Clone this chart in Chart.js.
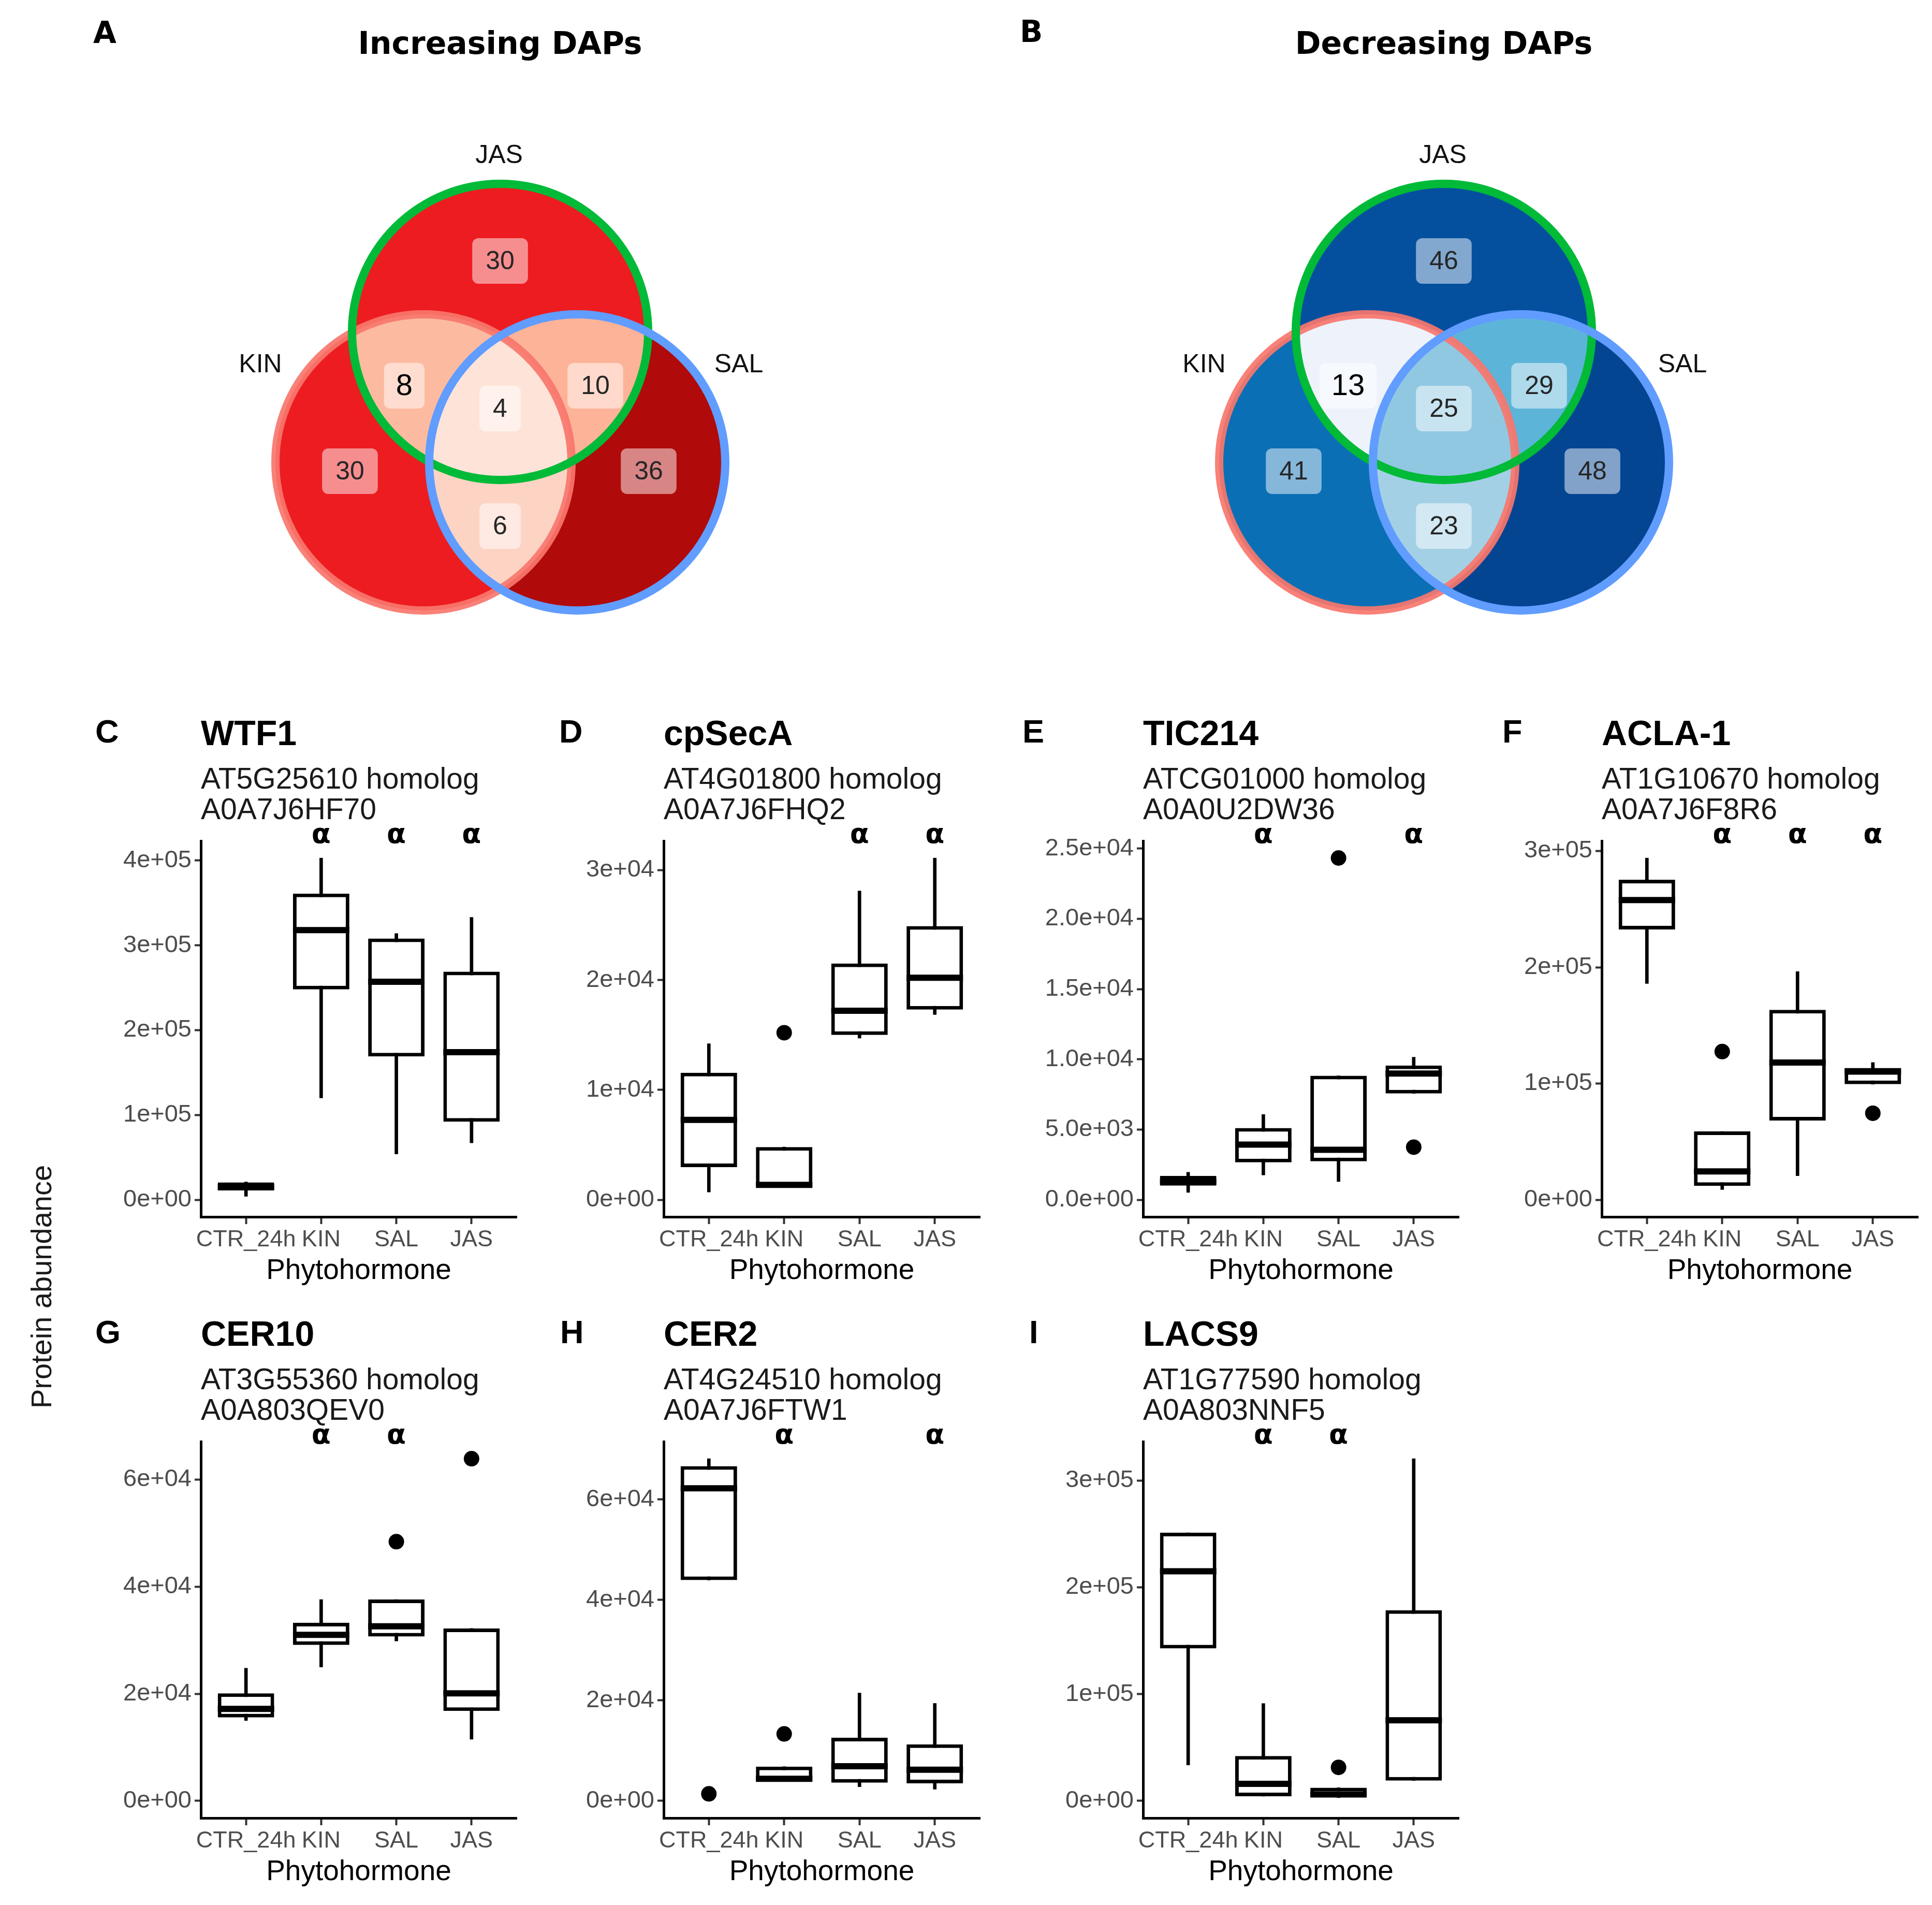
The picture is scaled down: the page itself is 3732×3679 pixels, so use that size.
<!DOCTYPE html>
<html>
<head>
<meta charset="utf-8">
<script src="https://cdn.jsdelivr.net/npm/chart.js@4.4.1/dist/chart.umd.min.js"></script>
<style>
html,body{margin:0;padding:0;background:#fff;}
#page{position:relative;width:3732px;height:3679px;background:#fff;overflow:hidden;}
#page canvas{position:absolute;}
.letter{position:absolute;font-family:"Liberation Sans",Arial,sans-serif;font-weight:bold;color:#000;line-height:1;white-space:nowrap;}
.letterAB{position:absolute;font-family:"DejaVu Sans",sans-serif;font-weight:bold;color:#000;line-height:1;white-space:nowrap;font-size:58px;}
#ylab{position:absolute;left:-320px;top:2450px;width:800px;height:70px;line-height:70px;text-align:center;
  transform:rotate(-90deg);font-family:"Liberation Sans",Arial,sans-serif;font-size:56px;color:#1a1a1a;white-space:nowrap;}
</style>
</head>
<body>
<div id="page">
  <div class="letterAB" style="left:180px;top:34px;">A</div>
  <div class="letterAB" style="left:1970px;top:32px;">B</div>
  <div class="letter" style="left:184px;top:1381px;font-size:63px;">C</div>
  <div class="letter" style="left:1080px;top:1381px;font-size:63px;">D</div>
  <div class="letter" style="left:1975px;top:1381px;font-size:63px;">E</div>
  <div class="letter" style="left:2902px;top:1381px;font-size:63px;">F</div>
  <div class="letter" style="left:184px;top:2541px;font-size:63px;">G</div>
  <div class="letter" style="left:1082px;top:2541px;font-size:63px;">H</div>
  <div class="letter" style="left:1988px;top:2541px;font-size:63px;">I</div>
  <div id="ylab">Protein abundance</div>
</div>
<script>
// ===================== DATA =====================
const vennSets = ['KIN', 'JAS', 'SAL'];
const vennRegions = ['KIN', 'JAS', 'SAL', 'KIN∩JAS', 'JAS∩SAL', 'KIN∩SAL', 'KIN∩JAS∩SAL'];
const increasingCounts = [30, 30, 36, 8, 10, 6, 4];
const decreasingCounts = [41, 46, 48, 13, 29, 23, 25];

const categories = ['CTR_24h', 'KIN', 'SAL', 'JAS'];

// C - WTF1
const wtf1Low    = [4000, 120000, 54000, 67000];
const wtf1Q1     = [11000, 248000, 169000, 92000];
const wtf1Median = [15000, 318000, 257000, 174000];
const wtf1Q3     = [20500, 361000, 308000, 269000];
const wtf1High   = [21000, 403000, 314000, 333000];
const wtf1OutCat = [];
const wtf1OutVal = [];
const wtf1Sig    = ['', 'α', 'α', 'α'];
const wtf1Ticks  = [0, 100000, 200000, 300000, 400000];

// D - cpSecA
const cpsecaLow    = [700, 1250, 14700, 16850];
const cpsecaQ1     = [2970, 1250, 15000, 17300];
const cpsecaMedian = [7270, 1350, 17200, 20200];
const cpsecaQ3     = [11560, 4800, 21500, 24900];
const cpsecaHigh   = [14200, 4800, 28100, 31100];
const cpsecaOutCat = ['KIN'];
const cpsecaOutVal = [15200];
const cpsecaSig    = ['', '', 'α', 'α'];
const cpsecaTicks  = [0, 10000, 20000, 30000];

// E - TIC214
const tic214Low    = [520, 1760, 1290, 7570];
const tic214Q1     = [1000, 2660, 2740, 7570];
const tic214Median = [1300, 3930, 3560, 8990];
const tic214Q3     = [1700, 5110, 8830, 9560];
const tic214High   = [1960, 6070, 8830, 10150];
const tic214OutCat = ['SAL', 'JAS'];
const tic214OutVal = [24330, 3745];
const tic214Sig    = ['', 'α', '', 'α'];
const tic214Ticks  = [0, 5000, 10000, 15000, 20000, 25000];

// F - ACLA-1
const acla1Low    = [186000, 8750, 20600, 99400];
const acla1Q1     = [232500, 11900, 68100, 99400];
const acla1Median = [257800, 24400, 118100, 110300];
const acla1Q3     = [275300, 58750, 163400, 113400];
const acla1High   = [294000, 58750, 196250, 118100];
const acla1OutCat = ['KIN', 'JAS'];
const acla1OutVal = [127500, 74400];
const acla1Sig    = ['', 'α', 'α', 'α'];
const acla1Ticks  = [0, 100000, 200000, 300000];

// G - CER10
const cer10Low    = [15000, 25000, 29850, 11500];
const cer10Q1     = [15580, 29130, 30700, 16800];
const cer10Median = [17170, 31000, 32600, 20070];
const cer10Q3     = [20070, 33260, 37600, 32200];
const cer10High   = [24780, 37600, 37600, 32200];
const cer10OutCat = ['SAL', 'JAS'];
const cer10OutVal = [48400, 63900];
const cer10Sig    = ['', 'α', 'α', ''];
const cer10Ticks  = [0, 20000, 40000, 60000];

// H - CER2
const cer2Low    = [43950, 3880, 2800, 2330];
const cer2Q1     = [43950, 3880, 3640, 3490];
const cer2Median = [62200, 4400, 6900, 6200];
const cer2Q3     = [66600, 6820, 12560, 11240];
const cer2High   = [68100, 6820, 21470, 19400];
const cer2OutCat = ['CTR_24h', 'KIN'];
const cer2OutVal = [1400, 13330];
const cer2Sig    = ['', 'α', '', 'α'];
const cer2Ticks  = [0, 20000, 40000, 60000];

// I - LACS9
const lacs9Low    = [33600, 4400, 3000, 19000];
const lacs9Q1     = [142700, 4400, 4400, 19000];
const lacs9Median = [215000, 16000, 6000, 75500];
const lacs9Q3     = [251100, 42000, 12400, 178500];
const lacs9High   = [251100, 91200, 12400, 320400];
const lacs9OutCat = ['SAL'];
const lacs9OutVal = [31400];
const lacs9Sig    = ['', 'α', 'α', ''];
const lacs9Ticks  = [0, 100000, 200000, 300000];

// ===================== STYLE / LAYOUT =====================
Chart.defaults.font.family = '"Liberation Sans", Arial, sans-serif';
const SANS = '"Liberation Sans", Arial, sans-serif';

const vennLayout = {
  radius: 286,
  centers: [[-148, -84], [0, 168], [149, -84]],
  regionPos: [[-290, -101], [0, 305], [287, -101], [-185, 64], [184, 64], [0, -207], [0, 20]],
  setPos: [[-463, 90], [-2, 494], [461, 90]],
  titleY: 705
};
const ringColors = ['rgba(248,118,109,0.92)', '#00BA38', '#619CFF'];
const incFills = ['#ED1C20', '#ED1C20', '#B10A0A', '#FCBBA1', '#FCB398', '#FDD4C4', '#FEE4D8'];
const decFills = ['#0B6FB5', '#04509F', '#044592', '#EDF2FB', '#5DB4D9', '#A4D0E6', '#90C8E1'];

const vennPlugin = {
  id: 'venn',
  afterDraw(chart, args, o) {
    const {ctx, scales: {x, y}} = chart;
    const px = v => x.getPixelForValue(v), py = v => y.getPixelForValue(v);
    const r = Math.abs(px(vennLayout.radius) - px(0));
    const c = vennLayout.centers.map(([cx, cy]) => [px(cx), py(cy)]);
    const path = i => { ctx.beginPath(); ctx.arc(c[i][0], c[i][1], r, 0, Math.PI * 2); };
    ctx.save();
    for (let i = 0; i < 3; i++) { path(i); ctx.fillStyle = o.fills[i]; ctx.fill(); }
    const pairs = [[0, 1], [1, 2], [0, 2]];
    pairs.forEach(([a, b], k) => {
      ctx.save(); path(a); ctx.clip(); path(b); ctx.fillStyle = o.fills[3 + k]; ctx.fill(); ctx.restore();
    });
    ctx.save(); path(0); ctx.clip(); path(1); ctx.clip(); path(2); ctx.fillStyle = o.fills[6]; ctx.fill(); ctx.restore();
    [0, 1, 2].forEach(i => { path(i); ctx.lineWidth = 16; ctx.strokeStyle = ringColors[i]; ctx.stroke(); });
    // region counts
    ctx.textAlign = 'center'; ctx.textBaseline = 'middle';
    o.counts.forEach((n, i) => {
      const big = o.emphasis.includes(i);
      ctx.font = (big ? '58px ' : '50px ') + SANS;
      const t = String(n);
      const tw = ctx.measureText(t).width;
      const w = tw + (big ? 46 : 52), h = 88;
      const cx = px(vennLayout.regionPos[i][0]), cy = py(vennLayout.regionPos[i][1]);
      ctx.beginPath(); ctx.roundRect(cx - w / 2, cy - h / 2, w, h, 12);
      ctx.fillStyle = 'rgba(255,255,255,0.5)'; ctx.fill();
      ctx.fillStyle = big ? '#000' : '#262626';
      ctx.fillText(t, cx, cy + 2);
    });
    // set labels
    ctx.textBaseline = 'alphabetic'; ctx.fillStyle = '#111'; ctx.font = '50px ' + SANS;
    vennSets.forEach((s, i) => ctx.fillText(s, px(vennLayout.setPos[i][0]), py(vennLayout.setPos[i][1])));
    // title
    ctx.font = 'bold 60px "DejaVu Sans"'; ctx.fillStyle = '#000';
    ctx.fillText(o.title, px(0), py(vennLayout.titleY));
    ctx.restore();
  }
};

function addCanvas(left, top, w, h) {
  const cv = document.createElement('canvas');
  cv.width = w; cv.height = h;
  cv.style.left = left + 'px'; cv.style.top = top + 'px';
  cv.style.width = w + 'px'; cv.style.height = h + 'px';
  document.getElementById('page').appendChild(cv);
  return cv;
}

function makeVenn(left, xmin, counts, fills, title, emphasis) {
  const W = 1866, H = 1260;
  const cv = addCanvas(left, 0, W, H);
  new Chart(cv, {
    type: 'scatter',
    data: {datasets: []},
    options: {
      responsive: false, animation: false, devicePixelRatio: 1, events: [],
      layout: {padding: 0},
      scales: {
        x: {display: false, min: xmin, max: xmin + W},
        y: {display: false, min: -451, max: 809}
      },
      plugins: {legend: {display: false}, tooltip: {enabled: false},
        venn: {counts, fills, title, emphasis}}
    },
    plugins: [vennPlugin]
  });
}
makeVenn(0, -966, increasingCounts, incFills, 'Increasing DAPs', [3]);
makeVenn(1866, -923, decreasingCounts, decFills, 'Decreasing DAPs', [3]);

// ---------- box plots ----------
const fmtSci = (v, d) => Number(v).toExponential(d).replace(/e([+-])(\d+)$/, (m, s, e) => 'e' + s + e.padStart(2, '0'));

const panelHeader = {
  id: 'panelHeader',
  afterDraw(chart, args, o) {
    const {ctx, chartArea: a, scales: {x}} = chart;
    ctx.save();
    ctx.textAlign = 'left'; ctx.textBaseline = 'alphabetic';
    ctx.fillStyle = '#000'; ctx.font = 'bold 68px ' + SANS;
    ctx.fillText(o.name, a.left, a.top - 185);
    ctx.fillStyle = '#1a1a1a'; ctx.font = '57px ' + SANS;
    ctx.fillText(o.sub[0], a.left, a.top - 101);
    ctx.fillText(o.sub[1], a.left, a.top - 42);
    ctx.fillStyle = '#000'; ctx.font = 'bold 54px "DejaVu Sans"'; ctx.textAlign = 'center';
    o.sig.forEach((s, i) => { if (s) ctx.fillText(s, x.getPixelForValue(i + 1), a.top + 4); });
    ctx.restore();
  }
};
const boxMedian = {
  id: 'boxMedian',
  afterDatasetsDraw(chart, args, o) {
    const {ctx, scales: {y}} = chart;
    const meta = chart.getDatasetMeta(0);
    ctx.save();
    ctx.strokeStyle = '#000'; ctx.lineWidth = 12; ctx.lineCap = 'butt';
    meta.data.forEach((bar, i) => {
      const yy = y.getPixelForValue(o.median[i]);
      ctx.beginPath(); ctx.moveTo(bar.x - bar.width / 2, yy); ctx.lineTo(bar.x + bar.width / 2, yy); ctx.stroke();
    });
    ctx.restore();
  }
};

const panels = [
  {name: 'WTF1', sub: ['AT5G25610 homolog', 'A0A7J6HF70'], low: wtf1Low, q1: wtf1Q1, med: wtf1Median, q3: wtf1Q3, high: wtf1High, outCat: wtf1OutCat, outVal: wtf1OutVal, sig: wtf1Sig, ticks: wtf1Ticks, digits: 0, area: [388, 1624, 998, 2350]},
  {name: 'cpSecA', sub: ['AT4G01800 homolog', 'A0A7J6FHQ2'], low: cpsecaLow, q1: cpsecaQ1, med: cpsecaMedian, q3: cpsecaQ3, high: cpsecaHigh, outCat: cpsecaOutCat, outVal: cpsecaOutVal, sig: cpsecaSig, ticks: cpsecaTicks, digits: 0, area: [1282, 1624, 1893, 2350]},
  {name: 'TIC214', sub: ['ATCG01000 homolog', 'A0A0U2DW36'], low: tic214Low, q1: tic214Q1, med: tic214Median, q3: tic214Q3, high: tic214High, outCat: tic214OutCat, outVal: tic214OutVal, sig: tic214Sig, ticks: tic214Ticks, digits: 1, area: [2208, 1624, 2818, 2350]},
  {name: 'ACLA-1', sub: ['AT1G10670 homolog', 'A0A7J6F8R6'], low: acla1Low, q1: acla1Q1, med: acla1Median, q3: acla1Q3, high: acla1High, outCat: acla1OutCat, outVal: acla1OutVal, sig: acla1Sig, ticks: acla1Ticks, digits: 0, area: [3094, 1624, 3705, 2350]},
  {name: 'CER10', sub: ['AT3G55360 homolog', 'A0A803QEV0'], low: cer10Low, q1: cer10Q1, med: cer10Median, q3: cer10Q3, high: cer10High, outCat: cer10OutCat, outVal: cer10OutVal, sig: cer10Sig, ticks: cer10Ticks, digits: 0, area: [388, 2784, 998, 3511]},
  {name: 'CER2', sub: ['AT4G24510 homolog', 'A0A7J6FTW1'], low: cer2Low, q1: cer2Q1, med: cer2Median, q3: cer2Q3, high: cer2High, outCat: cer2OutCat, outVal: cer2OutVal, sig: cer2Sig, ticks: cer2Ticks, digits: 0, area: [1282, 2784, 1893, 3511]},
  {name: 'LACS9', sub: ['AT1G77590 homolog', 'A0A803NNF5'], low: lacs9Low, q1: lacs9Q1, med: lacs9Median, q3: lacs9Q3, high: lacs9High, outCat: lacs9OutCat, outVal: lacs9OutVal, sig: lacs9Sig, ticks: lacs9Ticks, digits: 0, area: [2208, 2784, 2818, 3511]}
];

const Y_W = 250, X_H = 170, TOP_PAD = 300, RIGHT_PAD = 25;
panels.forEach(p => {
  const [L, T, R, B] = p.area;
  const W = (R - L) + Y_W + RIGHT_PAD, H = (B - T) + TOP_PAD + X_H;
  const cv = addCanvas(L - Y_W, T - TOP_PAD, W, H);
  const all = [...p.low, ...p.high, ...p.outVal];
  const lo = Math.min(0, ...all), hi = Math.max(...all), pad = 0.05 * (hi - lo);
  new Chart(cv, {
    type: 'bar',
    data: {
      datasets: [
        {type: 'bar', label: 'box', data: categories.map((c, i) => ({x: i + 1, y: [p.q1[i], p.q3[i]]})),
          backgroundColor: '#fff', borderColor: '#000', borderWidth: 7, borderSkipped: false,
          grouped: false, barPercentage: 0.75, categoryPercentage: 1},
        {type: 'bar', label: 'whisker', data: categories.map((c, i) => ({x: i + 1, y: [p.low[i], p.high[i]]})),
          backgroundColor: '#000', borderWidth: 0, grouped: false, barThickness: 6},
        {type: 'scatter', label: 'outlier', data: p.outCat.map((c, k) => ({x: categories.indexOf(c) + 1, y: p.outVal[k]})),
          pointRadius: 15, pointHoverRadius: 15, backgroundColor: '#000', borderWidth: 0}
      ]
    },
    options: {
      responsive: false, animation: false, devicePixelRatio: 1, events: [],
      layout: {padding: {top: TOP_PAD, right: RIGHT_PAD, bottom: 0, left: 0}},
      scales: {
        x: {
          type: 'linear', min: 0.4, max: 4.6, offset: false,
          afterBuildTicks: s => { s.ticks = categories.map((c, i) => ({value: i + 1})); },
          afterFit: s => { s.height = X_H; },
          grid: {drawOnChartArea: false, drawTicks: true, tickLength: 14, tickWidth: 4, tickColor: '#333', offset: false},
          border: {display: true, color: '#000', width: 5},
          ticks: {autoSkip: false, maxRotation: 0, minRotation: 0, padding: 4, color: '#4d4d4d',
            font: {size: 45, family: SANS}, callback: v => categories[Math.round(v) - 1] ?? ''},
          title: {display: true, text: 'Phytohormone', color: '#000', font: {size: 55, family: SANS}, padding: {top: 0, bottom: 32}}
        },
        y: {
          type: 'linear', min: lo - pad, max: hi + pad,
          afterBuildTicks: s => { s.ticks = p.ticks.map(v => ({value: v})); },
          afterFit: s => { s.width = Y_W; },
          grid: {drawOnChartArea: false, drawTicks: true, tickLength: 12, tickWidth: 4, tickColor: '#333'},
          border: {display: true, color: '#000', width: 5},
          ticks: {padding: 6, color: '#4d4d4d', font: {size: 47, family: SANS}, callback: v => fmtSci(v, p.digits)}
        }
      },
      plugins: {
        legend: {display: false}, tooltip: {enabled: false},
        panelHeader: {name: p.name, sub: p.sub, sig: p.sig},
        boxMedian: {median: p.med}
      }
    },
    plugins: [panelHeader, boxMedian]
  });
});
</script>
</body>
</html>
